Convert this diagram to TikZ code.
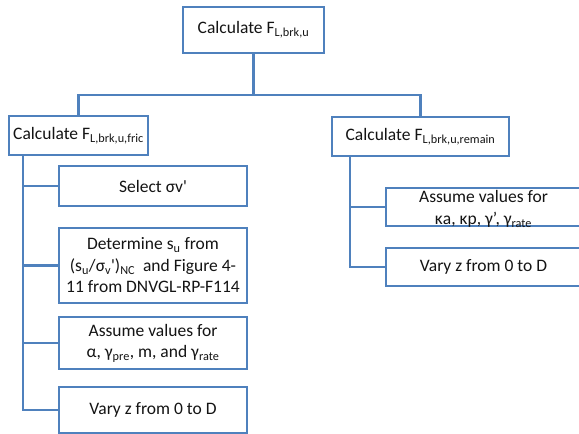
\documentclass[tikz,border=0pt]{standalone}
\usepackage{fontspec}
\setmainfont{Carlito}[Ligatures=TeXOff]
\definecolor{boxblue}{RGB}{79,129,189}
\definecolor{txt}{RGB}{20,20,20}
\newcommand\sbs[1]{\textsubscript{#1}}
\begin{document}
\begin{tikzpicture}[x=1pt,y=-1pt,
  box/.style={draw=boxblue,line width=2.6pt,fill=white,inner sep=0pt,align=center,
    text=txt,font=\fontsize{17.5}{21.5}\selectfont},
  conn/.style={draw=boxblue,line width=2.6pt}]
\useasboundingbox (0,0) rectangle (579,434);
\clip (0,0) rectangle (579,434);
% nodes
\node[box,minimum width=141pt,minimum height=46pt] (top) at (253.5,30) {Calculate F\sbs{L,brk,u}};
\node[box,minimum width=139pt,minimum height=39pt] (fric) at (78.5,135.5) {Calculate F\sbs{L,brk,u,fric}};
\node[box,minimum width=177pt,minimum height=39pt] (remain) at (420.5,136.5) {Calculate F\sbs{L,brk,u,remain}};
\node[box,minimum width=188pt,minimum height=40pt] (sel) at (153,186) {Select σv'};
\node[box,minimum width=188pt,minimum height=75pt] (det) at (153,265.5) {Determine s\sbs{u} from\\(s\sbs{u}/σ\sbs{v}')\sbs{NC}\ \ and Figure 4-\\11 from DNVGL-RP-F114};
\node[box,minimum width=188pt,minimum height=52pt] (asm) at (153,343) {Assume values for\\α, γ\sbs{pre}, m, and γ\sbs{rate}};
\node[box,minimum width=188pt,minimum height=46pt] (vary) at (153,410) {Vary z from 0 to D};
\node[box,minimum width=195pt,minimum height=38pt] (rasm) at (483.5,207) {};
\node[text=txt,font=\fontsize{17.5}{22.5}\selectfont,align=center,inner sep=0pt] (rasmtxt) at (483.5,209) {Assume values for\\κa, κp, γ’, γ\sbs{rate}};
\node[box,minimum width=195pt,minimum height=38pt] (rvary) at (483.5,267) {Vary z from 0 to D};
% junctions
\coordinate (j) at (253.5,95);
\coordinate (sl) at (23,155);
\coordinate (sr) at (350,156);
\draw[conn] (top.south) -- (j);
\draw[conn] (j) -| (fric.north);
\draw[conn] (j) -| (remain.north);
\draw[conn] (sl) |- (sel.west);
\draw[conn] (sl) |- (det.west);
\draw[conn] (sl) |- (asm.west);
\draw[conn] (sl) |- (vary.west);
\draw[conn] (sr) |- (rasm.west);
\draw[conn] (sr) |- (rvary.west);
\end{tikzpicture}
\end{document}
